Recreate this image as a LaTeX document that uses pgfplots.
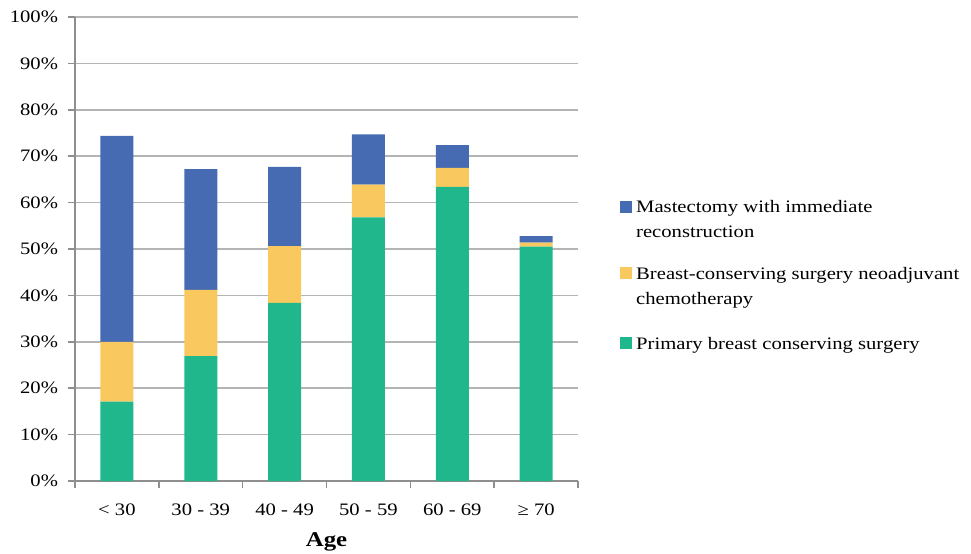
\documentclass[border=0pt]{standalone}
\usepackage{fontspec}
\setmainfont{Liberation Serif}[FakeStretch=1.18]
\usepackage{pgfplots}
\pgfplotsset{compat=1.18}
\definecolor{cblue}{HTML}{466BB2}
\definecolor{cyellow}{HTML}{F9C95F}
\definecolor{cgreen}{HTML}{20B78D}
\definecolor{gridgray}{HTML}{B4B4B4}
\definecolor{axgray}{HTML}{8E8E8E}
\begin{document}
\fontsize{17.5bp}{24bp}\selectfont
\begin{tikzpicture}
\begin{axis}[
  scale only axis, width=503bp, height=464bp,
  ybar stacked, bar width=33bp,
  xmin=-0.5, xmax=5.5, ymin=0, ymax=100,
  axis lines=left, axis line style={-, draw=axgray, line width=2bp},
  ytick={0,10,...,100},
  yticklabel={\pgfmathprintnumber{\tick}\%},
  yticklabel style={xshift=-4bp},
  /pgf/number format/assume math mode=true,
  ymajorgrids, grid style={draw=gridgray, line width=1.6bp},
  tick align=outside, major tick length=7bp,
  tick style={draw=axgray, line width=1.6bp},
  xtick={-0.5,0.5,...,5.5}, xticklabels={},
  extra x ticks={0,1,2,3,4,5},
  extra x tick labels={< 30, 30 - 39, 40 - 49, 50 - 59, 60 - 69, ≥ 70},
  extra x tick style={major tick length=0pt, xticklabel style={yshift=-17bp}},
  tick label style={font=\fontsize{17.5bp}{20bp}\selectfont},
  xlabel={\textbf{Age}}, xlabel style={font=\fontsize{21bp}{24bp}\selectfont, yshift=2bp},
  reverse legend,
  legend cell align=left,
  legend image code/.code={\draw[#1, draw=none] (0bp,0bp) rectangle (12bp,12bp);},
  legend style={draw=none, fill=none, at={(1,0.44)}, xshift=39bp, anchor=west,
    nodes={inner sep=0pt, text depth=, anchor=base west},
    row sep=29bp, column sep=4bp,
    font=\fontsize{17.5bp}{25bp}\selectfont},
]
\addplot[fill=cgreen, draw=none] coordinates {(0,17.1) (1,26.9) (2,38.4) (3,56.8) (4,63.4) (5,50.5)};
\addlegendentry{\parbox[t]{330bp}{Primary breast conserving surgery}}
\addplot[fill=cyellow, draw=none] coordinates {(0,12.9) (1,14.3) (2,12.2) (3,7.1) (4,4.1) (5,0.9)};
\addlegendentry{\parbox[t]{330bp}{Breast-conserving surgery neoadjuvant\\chemotherapy}}
\addplot[fill=cblue, draw=none] coordinates {(0,44.4) (1,26.0) (2,17.1) (3,10.8) (4,4.9) (5,1.4)};
\addlegendentry{\parbox[t]{330bp}{Mastectomy with immediate\\reconstruction}}
\coordinate (O) at (rel axis cs:0,0);
\end{axis}
\pgfresetboundingbox
\path (O) ++(-75bp,-73bp) rectangle ++(971bp,554bp);
\end{tikzpicture}
\end{document}
